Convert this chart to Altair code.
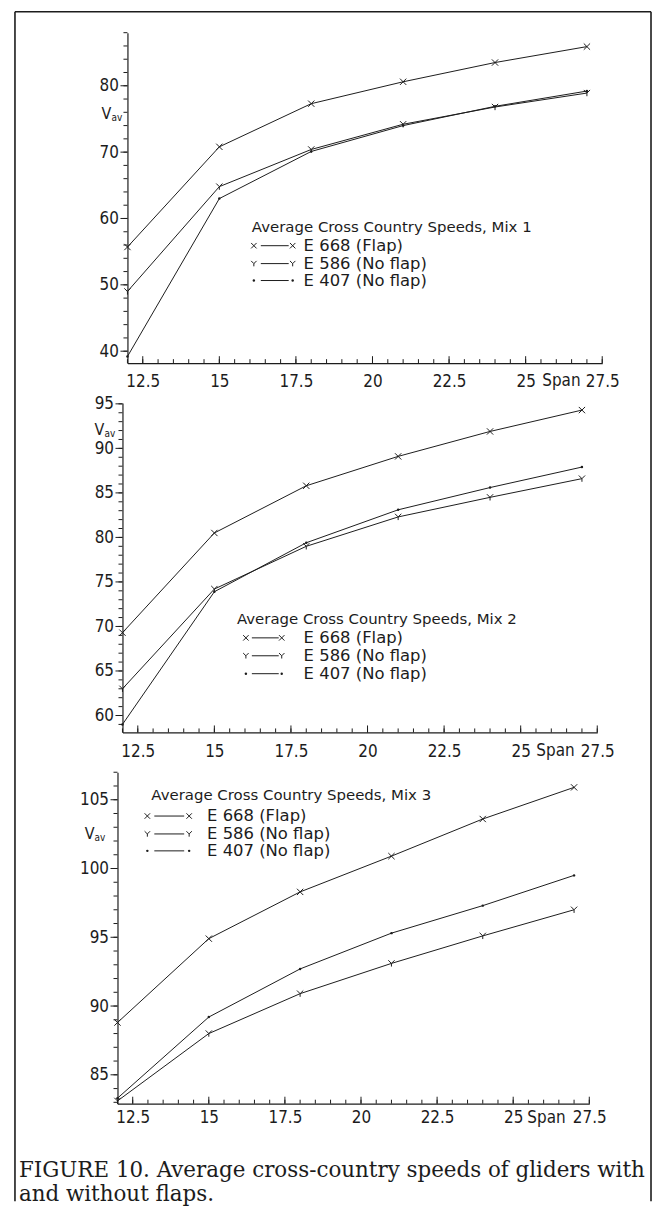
import altair as alt
import pandas as pd

# ---------------- data ----------------
SPAN = [12, 15, 18, 21, 24, 27]
NAMES = ["E 668 (Flap)", "E 586 (No flap)", "E 407 (No flap)"]

MIX1_E668 = [55.7, 70.8, 77.3, 80.6, 83.5, 85.9]
MIX1_E586 = [49.0, 64.8, 70.4, 74.2, 76.8, 78.9]
MIX1_E407 = [39.2, 63.0, 70.1, 74.0, 76.9, 79.2]

MIX2_E668 = [69.3, 80.5, 85.8, 89.1, 91.9, 94.3]
MIX2_E586 = [63.0, 74.2, 79.0, 82.3, 84.5, 86.6]
MIX2_E407 = [59.0, 73.9, 79.4, 83.1, 85.6, 87.9]

MIX3_E668 = [88.8, 94.9, 98.3, 100.9, 103.6, 105.9]
MIX3_E586 = [83.1, 88.0, 90.9, 93.1, 95.1, 97.0]
MIX3_E407 = [83.3, 89.2, 92.7, 95.3, 97.3, 99.5]

X_MAJOR = [12.5, 15, 17.5, 20, 22.5, 25, 27.5]
X_MINOR = [12, 12.5, 13, 13.5, 14, 14.5, 15, 15.5, 16, 16.5, 17, 17.5, 18, 18.5,
           19, 19.5, 20, 20.5, 21, 21.5, 22, 22.5, 23, 23.5, 24, 24.5, 25, 25.5,
           26, 26.5, 27, 27.5]

Y1_MAJOR = [40, 50, 60, 70, 80]
Y1_MINOR = [40, 42, 44, 46, 48, 50, 52, 54, 56, 58, 60, 62, 64, 66, 68, 70, 72,
            74, 76, 78, 80, 82, 84, 86, 88]
Y2_MAJOR = [60, 65, 70, 75, 80, 85, 90, 95]
Y2_MINOR = [59, 60, 61, 62, 63, 64, 65, 66, 67, 68, 69, 70, 71, 72, 73, 74, 75,
            76, 77, 78, 79, 80, 81, 82, 83, 84, 85, 86, 87, 88, 89, 90, 91, 92,
            93, 94, 95]
Y3_MAJOR = [85, 90, 95, 100, 105]
Y3_MINOR = [83, 84, 85, 86, 87, 88, 89, 90, 91, 92, 93, 94, 95, 96, 97, 98, 99,
            100, 101, 102, 103, 104, 105, 106, 107]

TITLES = ["Average Cross Country Speeds, Mix 1",
          "Average Cross Country Speeds, Mix 2",
          "Average Cross Country Speeds, Mix 3"]
CAPTION = ["FIGURE 10. Average cross-country speeds of gliders with",
           "and without flaps."]

# ---------------- styling ----------------
FONT = "DejaVu Sans Condensed, DejaVu Sans, sans-serif"
LFONT = "DejaVu Sans, sans-serif"
SERIF = "DejaVu Serif, Liberation Serif, serif"
INK = "#1c1c1c"
XSHAPE = "M-1,-1L1,1M-1,1L1,-1"
YSHAPE = "M-1,-1L0,0L1,-1M0,0L0,1"
SHAPES = [XSHAPE, YSHAPE, "circle"]

ONE = pd.DataFrame({"a": [0]})


def txt(x, y, s, size=15, align="left", baseline="middle", font=FONT):
    return alt.Chart(ONE).mark_text(align=align, baseline=baseline, font=font,
                                    fontSize=size, color=INK).encode(
        x=alt.value(x), y=alt.value(y), text=alt.value(s))


def panel(series, ydom, ymaj, ymin, off, plot_w, h, lab_pad, leg, vav, span_x,
          frame=None, caption=None):
    W = plot_w + off
    rows = []
    for name, vals in zip(NAMES, series):
        for s, v in zip(SPAN, vals):
            rows.append({"span": s, "v": v, "s": name})
    df = pd.DataFrame(rows)

    xsc = alt.Scale(domain=[12, 27.5], range=[off, W], nice=False, zero=False)
    ysc = alt.Scale(domain=ydom, nice=False, zero=False)
    xaxis = alt.Axis(values=X_MAJOR, labelExpr="datum.value + ''", ticks=False,
                     grid=False, title=None, labelFlush=False, labelFont=FONT,
                     labelFontSize=17, labelColor=INK, labelPadding=lab_pad,
                     labelBaseline="top", domainColor=INK, domainWidth=1.2)
    yaxis = alt.Axis(values=ymaj, ticks=False, grid=False, title=None,
                     offset=-off, labelFont=FONT, labelFontSize=17,
                     labelColor=INK, labelPadding=9, domainColor=INK,
                     domainWidth=1.2)

    def X(f):
        return alt.X(f, type="quantitative", scale=xsc, axis=xaxis)

    def Y(f):
        return alt.Y(f, type="quantitative", scale=ysc, axis=yaxis)

    base = alt.Chart(df)
    layers = [
        base.mark_line(color=INK, strokeWidth=1).encode(
            x=X("span"), y=Y("v"), detail="s:N"),
    ]
    for name, shp in zip(NAMES, SHAPES):
        filled = shp == "circle"
        layers.append(
            base.transform_filter(alt.datum.s == name).mark_point(
                shape=shp, size=6 if filled else 40, filled=filled,
                color=INK, strokeWidth=1, opacity=1).encode(
                x=X("span"), y=Y("v")))

    # axis ticks (y outward, x inward)
    for vals, ln in ((ymin, 4), (ymaj, 7)):
        layers.append(alt.Chart(pd.DataFrame({"v": vals})).mark_rule(
            color=INK, strokeWidth=1).encode(
            y=Y("v"), x=alt.value(off), x2=alt.value(off - ln)))
    for vals, ln in ((X_MINOR, 4), (X_MAJOR, 7)):
        layers.append(alt.Chart(pd.DataFrame({"span": vals})).mark_rule(
            color=INK, strokeWidth=1).encode(
            x=X("span"), y=alt.value(h), y2=alt.value(h - ln)))

    # legend drawn inside the panel
    title, tx, ty, rys, m1, l1, l2, m2, ex = leg
    layers.append(txt(tx, ty, title, size=15, font=LFONT))
    for name, shp, ry in zip(NAMES, SHAPES, rys):
        filled = shp == "circle"
        for mx in (m1, m2):
            layers.append(alt.Chart(ONE).mark_point(
                shape=shp, size=6 if filled else 30, filled=filled, color=INK,
                strokeWidth=1, opacity=1).encode(x=alt.value(mx), y=alt.value(ry)))
        layers.append(alt.Chart(ONE).mark_rule(color=INK, strokeWidth=1).encode(
            x=alt.value(l1), x2=alt.value(l2), y=alt.value(ry)))
        layers.append(txt(ex, ry, name, size=16.5, font=LFONT))

    # axis titles
    vx, vy = vav
    layers.append(txt(vx, vy, "V", size=16))
    layers.append(txt(vx + 10, vy + 4, "av", size=10))
    layers.append(txt(span_x, h + lab_pad, "Span", size=17, align="center",
                      baseline="top"))

    # frame of the whole figure (drawn once, from the first panel)
    if frame:
        top, bottom = frame
        fr = alt.Chart(ONE).mark_rule(color=INK, strokeWidth=1.6)
        layers.append(fr.encode(x=alt.value(-103), y=alt.value(top),
                                y2=alt.value(bottom)))
        layers.append(fr.encode(x=alt.value(536), y=alt.value(top),
                                y2=alt.value(bottom)))
        layers.append(fr.encode(x=alt.value(-103), x2=alt.value(536),
                                y=alt.value(top)))
    if caption:
        for s, cy in caption:
            layers.append(txt(-99, cy, s, size=21.5, baseline="alphabetic",
                              font=SERIF))

    return alt.layer(*layers).properties(width=W, height=h)


p1 = panel([MIX1_E668, MIX1_E586, MIX1_E407], [38.2, 88], Y1_MAJOR, Y1_MINOR,
           off=10, plot_w=477, h=332, lab_pad=10,
           leg=(TITLES[0], 135, 195, [214, 232, 249], 137, 144, 172, 176, 187),
           vav=(-16, 82), span_x=446, frame=(-21, 1174))

p2 = panel([MIX2_E668, MIX2_E586, MIX2_E407], [58.1, 95.1], Y2_MAJOR, Y2_MINOR,
           off=5, plot_w=477, h=331, lab_pad=11,
           leg=(TITLES[1], 120, 217, [236, 254, 272], 129, 135, 162, 165, 187),
           vav=(-23, 27), span_x=440)

p3 = panel([MIX3_E668, MIX3_E586, MIX3_E407], [82.9, 107], Y3_MAJOR, Y3_MINOR,
           off=0, plot_w=474, h=333, lab_pad=6,
           leg=(TITLES[2], 34, 23, [44, 62, 79], 30, 37, 67, 72, 90),
           vav=(-33, 62), span_x=431,
           caption=[(CAPTION[0], 407), (CAPTION[1], 431)])

chart = alt.vconcat(p1, p2, p3, spacing=40, bounds="flush").properties(
    padding={"left": 6, "top": 0, "right": 0, "bottom": 0}
).configure_view(stroke=None)

chart.save("out.html", embed_options={"renderer": "svg", "actions": False})
